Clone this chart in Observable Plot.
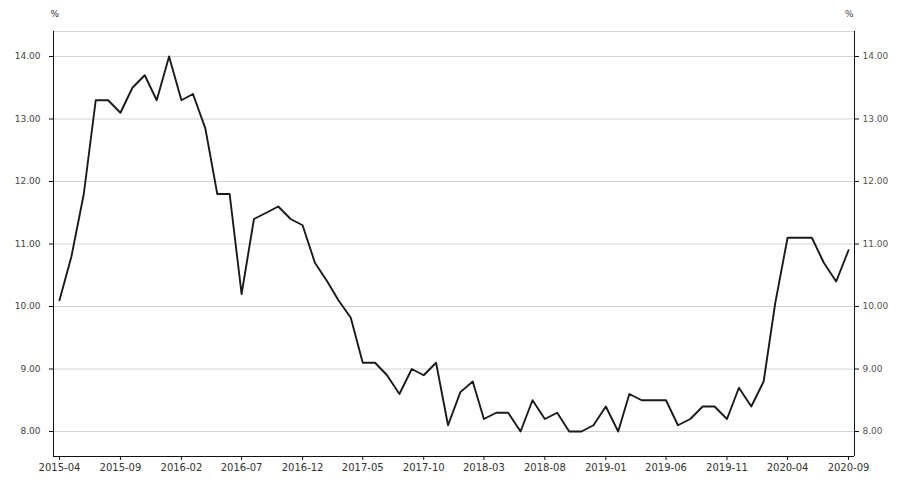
<!DOCTYPE html>
<html>
<head>
<meta charset="utf-8">
<script src="https://cdn.jsdelivr.net/npm/d3@7"></script>
<script src="https://cdn.jsdelivr.net/npm/@observablehq/plot@0.6"></script>
<style>
  html, body { margin: 0; padding: 0; background: #fff; }
  #chart { width: 900px; height: 482px; }
</style>
</head>
<body>
<div id="chart"></div>
<script>
// Monthly series, 2015-04 .. 2020-09 (percent)
const startMonth = "2015-04";
const values = [
  10.1, 10.8, 11.8, 13.3, 13.3, 13.1, 13.5, 13.7, 13.3, 14.0,
  13.3, 13.4, 12.85, 11.8, 11.8, 10.2, 11.4, 11.5, 11.6, 11.4,
  11.3, 10.7, 10.4, 10.1, 9.82, 9.1, 9.1, 8.9, 8.6, 9.0,
  8.9, 9.1, 8.1, 8.63, 8.8, 8.2, 8.3, 8.3, 8.0, 8.5,
  8.2, 8.3, 8.0, 8.0, 8.1, 8.4, 8.0, 8.6, 8.5, 8.5,
  8.5, 8.1, 8.2, 8.4, 8.4, 8.2, 8.7, 8.4, 8.8, 10.05,
  11.1, 11.1, 11.1, 10.7, 10.4, 10.9
];
const yTicks = [8, 9, 10, 11, 12, 13, 14];
const yDomain = [7.6, 14.4];
const unitLabel = "%";

const parse = d3.utcParse("%Y-%m");
const t0 = parse(startMonth);
const dates = values.map((_, i) => d3.utcMonth.offset(t0, i));
const data = dates.map((date, i) => ({date, value: values[i]}));
const xTicks = dates.filter((_, i) => i % 5 === 0);
const xDomain = [d3.utcDay.offset(dates[0], -15), d3.utcDay.offset(dates[dates.length - 1], 15)];

const chart = Plot.plot({
  width: 900,
  height: 482,
  marginLeft: 53,
  marginRight: 46,
  marginTop: 31,
  marginBottom: 26,
  style: {fontFamily: "'DejaVu Sans', Verdana, sans-serif", fontSize: "10px", color: "#333", background: "#fff"},
  x: {type: "utc", domain: xDomain},
  y: {domain: yDomain},
  marks: [
    Plot.gridY(yTicks, {stroke: "#d4d4d4", strokeOpacity: 1}),
    Plot.ruleY([yDomain[1]], {stroke: "#d4d4d4"}),
    Plot.ruleY([yDomain[0]], {stroke: "#111"}),
    Plot.ruleX([xDomain[0], xDomain[1]], {stroke: "#111"}),
    Plot.axisX({ticks: xTicks, tickFormat: d3.utcFormat("%Y-%m"), tickSize: 4, tickPadding: 3, label: null, stroke: "#111", fill: "#333"}),
    Plot.axisY({anchor: "left", ticks: yTicks, tickFormat: d => d.toFixed(2), tickSize: 4, tickPadding: 9, label: null, fontSize: 9, fill: "#444", stroke: "#111"}),
    Plot.axisY({anchor: "right", ticks: yTicks, tickFormat: d => d.toFixed(2), tickSize: 4, tickPadding: 4, label: null, fontSize: 9, fill: "#555", stroke: "#111"}),
    Plot.text([unitLabel], {frameAnchor: "top-left", dx: -3, dy: -21, fontSize: 9, fill: "#333"}),
    Plot.text([unitLabel], {frameAnchor: "top-right", dx: -1, dy: -21, fontSize: 9, fill: "#444"}),
    Plot.line(data, {x: "date", y: "value", stroke: "#1a1a1a", strokeWidth: 1.9})
  ]
});
document.getElementById("chart").appendChild(chart);
</script>
</body>
</html>
